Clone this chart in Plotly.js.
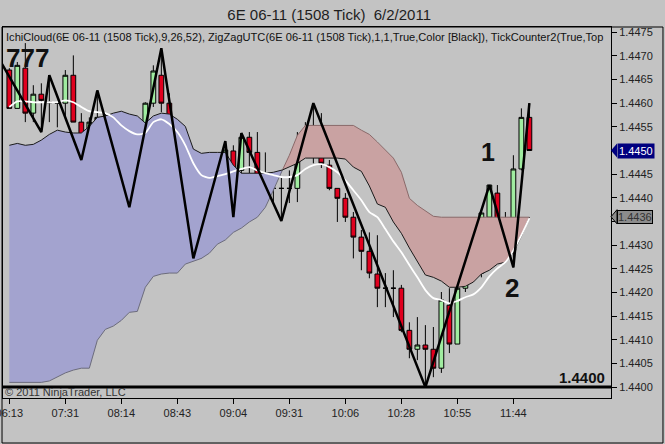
<!DOCTYPE html>
<html>
<head>
<meta charset="utf-8">
<script src="https://cdn.plot.ly/plotly-3.0.1.min.js"></script>
<style>
html,body{margin:0;padding:0;background:#c3c3c3;}
#chart{width:665px;height:444px;}
</style>
</head>
<body>
<div id="chart"></div>
<script>
// ---- Data ----
const timeLabels = ['06:13','07:31','08:14','08:43','09:04','09:31','10:06','10:28','10:55','11:44'];
const timeLabelBars = [0,7,14,21,28,35,42,49,56,63];
const priceTicks = [1.4400,1.4405,1.4410,1.4415,1.4420,1.4425,1.4430,1.4435,1.4440,1.4445,1.4450,1.4455,1.4460,1.4465,1.4470,1.4475];

const opens  = [1.44670,1.44589,1.44674,1.44579,1.44619,1.44603,1.44600,1.44600,1.44659,1.44560,
                1.44496,1.44560,1.44570,1.44539,1.44539,1.44429,1.44461,1.44496,1.44600,1.44659,
                1.44600,1.44496,1.44359,1.44389,1.44319,1.44300,1.44368,1.44410,1.44499,1.44458,
                1.44528,1.44496,1.44437,1.44420,1.44420,1.44420,1.44420,1.44496,1.44528,1.44518,
                1.44469,1.44420,1.44399,1.44359,1.44317,1.44287,1.44239,1.44209,1.44209,1.44209,
                1.44120,1.44080,1.44089,1.44080,1.44040,1.44173,1.44091,1.44209,1.44249,1.44241,
                1.44359,1.44410,1.44349,1.44289,1.44461,1.44570];
const highs  = [1.44674,1.44687,1.44727,1.44638,1.44642,1.44659,1.44600,1.44670,1.44701,1.44579,
                1.44570,1.44627,1.44579,1.44564,1.44539,1.44473,1.44518,1.44602,1.44680,1.44716,
                1.44621,1.44501,1.44410,1.44410,1.44338,1.44395,1.44416,1.44520,1.44511,1.44537,
                1.44539,1.44539,1.44496,1.44442,1.44442,1.44458,1.44539,1.44560,1.44600,1.44579,
                1.44480,1.44420,1.44410,1.44370,1.44332,1.44327,1.44321,1.44241,1.44247,1.44216,
                1.44137,1.44148,1.44131,1.44127,1.44201,1.44209,1.44220,1.44264,1.44272,1.44370,
                1.44427,1.44427,1.44370,1.44490,1.44589,1.44600];
const lows   = [1.44589,1.44589,1.44560,1.44560,1.44539,1.44560,1.44549,1.44568,1.44560,1.44480,
                1.44477,1.44549,1.44461,1.44463,1.44427,1.44380,1.44458,1.44490,1.44592,1.44581,
                1.44469,1.44353,1.44338,1.44272,1.44272,1.44296,1.44317,1.44402,1.44359,1.44437,
                1.44442,1.44420,1.44389,1.44389,1.44351,1.44389,1.44391,1.44494,1.44473,1.44463,
                1.44416,1.44349,1.44349,1.44272,1.44247,1.44230,1.44169,1.44169,1.44148,1.44116,
                1.44061,1.44057,1.44000,1.44021,1.44030,1.44072,1.44091,1.44201,1.44222,1.44232,
                1.44327,1.44338,1.44272,1.44253,1.44458,1.44500];
const closes = [1.44589,1.44680,1.44579,1.44619,1.44606,1.44601,1.44600,1.44659,1.44560,1.44494,
                1.44560,1.44570,1.44539,1.44539,1.44429,1.44461,1.44496,1.44600,1.44668,1.44600,
                1.44496,1.44359,1.44389,1.44319,1.44300,1.44368,1.44410,1.44501,1.44458,1.44528,
                1.44496,1.44437,1.44422,1.44420,1.44420,1.44420,1.44496,1.44528,1.44518,1.44473,
                1.44420,1.44399,1.44359,1.44317,1.44287,1.44241,1.44209,1.44209,1.44209,1.44120,
                1.44080,1.44089,1.44080,1.44040,1.44184,1.44091,1.44209,1.44247,1.44241,1.44368,
                1.44427,1.44353,1.44289,1.44461,1.44570,1.44500];

// Ichimoku cloud boundaries
const senkouA = [1.44511,1.44515,1.44511,1.44513,1.44522,1.44534,1.44543,1.44539,1.44537,1.44537,
                 1.44551,1.44570,1.44573,1.44579,1.44583,1.44577,1.44573,1.44558,1.44573,1.44579,
                 1.44577,1.44566,1.44551,1.44503,1.44494,1.44496,1.44496,1.44496,1.44469,1.44452,
                 1.44452,1.44452,1.44452,1.44454,1.44458,1.44465,1.44473,1.44484,1.44484,1.44484,
                 1.44484,1.44484,1.44482,1.44465,1.44456,1.44425,1.44387,1.44380,1.44349,1.44325,
                 1.44294,1.44264,1.44237,1.44232,1.44224,1.44211,1.44211,1.44213,1.44222,1.44239,
                 1.44247,1.44260,1.44264,1.44285,1.44319,1.44359];
const senkouB = [1.44010,1.44010,1.44010,1.44010,1.44010,1.44013,1.44021,1.44030,1.44036,1.44040,
                 1.44040,1.44099,1.44122,1.44129,1.44141,1.44158,1.44160,1.44211,1.44234,1.44239,
                 1.44241,1.44241,1.44260,1.44266,1.44272,1.44283,1.44302,1.44311,1.44327,1.44336,
                 1.44349,1.44359,1.44380,1.44416,1.44454,1.44490,1.44532,1.44553,1.44553,1.44553,
                 1.44553,1.44553,1.44553,1.44553,1.44543,1.44534,1.44518,1.44501,1.44484,1.44454,
                 1.44399,1.44384,1.44372,1.44361,1.44359,1.44359,1.44359,1.44359,1.44359,1.44359,
                 1.44359,1.44359,1.44359,1.44359,1.44359,1.44359];
const whiteLine = [1.44592,1.44604,1.44604,1.44602,1.44602,1.44602,1.44602,1.44606,1.44602,1.44592,
                   1.44583,1.44581,1.44579,1.44570,1.44553,1.44541,1.44534,1.44537,1.44560,1.44566,
                   1.44556,1.44539,1.44511,1.44473,1.44448,1.44442,1.44446,1.44450,1.44456,1.44461,
                   1.44465,1.44458,1.44452,1.44448,1.44444,1.44444,1.44448,1.44461,1.44469,1.44471,
                   1.44465,1.44454,1.44437,1.44416,1.44395,1.44370,1.44359,1.44334,1.44308,1.44285,
                   1.44258,1.44232,1.44205,1.44188,1.44184,1.44177,1.44182,1.44190,1.44196,1.44211,
                   1.44234,1.44251,1.44264,1.44289,1.44321,1.44357];

// ZigZag pivots (bar index, price)
const zigzagBars   = [-1.2,4,5,9,11,15,19,23,27,28,29,34,38,52,60,63,65];
const zigzagPrices = [1.44691,1.44539,1.44659,1.44480,1.44627,1.44380,1.44716,1.44272,1.44520,1.44359,
                      1.44537,1.44351,1.44600,1.44000,1.44427,1.44253,1.44600];

const levelLine = 1.4400;
const lastPrice = 1.4450;
const cloudPrice = 1.4436;

// ---- Build traces ----
const bars = opens.map((_, i) => i);
const traces = [];

function cloudSegments() {
  const segs = [];
  let cur = {sign: Math.sign(senkouA[0] - senkouB[0]) || 1, x: [0], a: [senkouA[0]], b: [senkouB[0]]};
  for (let i = 1; i < bars.length; i++) {
    const d0 = senkouA[i-1] - senkouB[i-1];
    const d1 = senkouA[i] - senkouB[i];
    const s1 = Math.sign(d1);
    if (s1 !== 0 && s1 !== cur.sign) {
      const t = d0 / (d0 - d1);
      const xc = i - 1 + t;
      const yc = senkouA[i-1] + t * (senkouA[i] - senkouA[i-1]);
      cur.x.push(xc); cur.a.push(yc); cur.b.push(yc);
      segs.push(cur);
      cur = {sign: s1, x: [xc], a: [yc], b: [yc]};
    }
    cur.x.push(i); cur.a.push(senkouA[i]); cur.b.push(senkouB[i]);
  }
  segs.push(cur);
  return segs;
}
const segs = cloudSegments();
segs.forEach(s => {
  const blue = s.sign > 0;
  traces.push({
    type: 'scatter', mode: 'lines', hoverinfo: 'skip', showlegend: false,
    x: s.x.concat(s.x.slice().reverse()),
    y: s.a.concat(s.b.slice().reverse()),
    fill: 'toself', fillcolor: blue ? '#a3a3cf' : '#c9a2a2',
    line: {width: 0}
  });
});
segs.forEach(s => {
  const blue = s.sign > 0;
  traces.push({type: 'scatter', mode: 'lines', hoverinfo: 'skip', showlegend: false,
    x: s.x, y: s.b, line: {color: blue ? '#6c6c7c' : '#8a6a6a', width: 1}});
  traces.push({type: 'scatter', mode: 'lines', hoverinfo: 'skip', showlegend: false,
    x: s.x, y: s.a, line: {color: '#1a1a1a', width: 1}});
});

// White line
traces.push({type: 'scatter', mode: 'lines', hoverinfo: 'skip', showlegend: false,
  x: bars, y: whiteLine, line: {color: '#ffffff', width: 1.8, shape: 'spline', smoothing: 0.6}});

// Candles
traces.push({
  type: 'candlestick', x: bars, open: opens, high: highs, low: lows, close: closes,
  hoverinfo: 'skip', showlegend: false, whiskerwidth: 0,
  increasing: {line: {color: '#000000', width: 1}, fillcolor: '#a0eca0'},
  decreasing: {line: {color: '#000000', width: 1}, fillcolor: '#e0001e'}
});

// ZigZag
traces.push({type: 'scatter', mode: 'lines', hoverinfo: 'skip', showlegend: false,
  x: zigzagBars, y: zigzagPrices, line: {color: '#000000', width: 2.5}});

// ---- Layout ----
const F = 'Liberation Sans, Arial, sans-serif';
const hiddenTicks = [lastPrice, 1.4435];
const layout = {
  width: 665, height: 444,
  margin: {l: 3, r: 54, t: 27, b: 46},
  paper_bgcolor: '#c3c3c3', plot_bgcolor: '#c3c3c3',
  boxgap: 0.15,
  title: {text: '6E 06-11 (1508 Tick)  6/2/2011', font: {family: F, size: 15, color: '#1e1e1e'},
          x: 0.495, xanchor: 'center', y: 0.966, yanchor: 'middle'},
  showlegend: false,
  xaxis: {
    range: [-0.79, 75.2], rangeslider: {visible: false},
    tickmode: 'array', tickvals: timeLabelBars, ticktext: timeLabels,
    ticklabeloverflow: 'allow',
    ticks: 'outside', ticklen: 5, tickcolor: '#000', tickwidth: 1,
    showgrid: false, zeroline: false,
    showline: true, linecolor: '#000', linewidth: 1, mirror: true,
    tickfont: {family: F, size: 11, color: '#222'}, fixedrange: true
  },
  yaxis: {
    range: [1.43977, 1.44761], side: 'right',
    tickmode: 'array', tickvals: priceTicks,
    ticktext: priceTicks.map(v => hiddenTicks.some(h => Math.abs(h - v) < 1e-7) ? '' : v.toFixed(4)),
    ticks: 'outside', ticklen: 5, tickcolor: '#000', tickwidth: 1,
    showgrid: false, zeroline: false,
    showline: true, linecolor: '#000', linewidth: 1, mirror: true,
    tickfont: {family: F, size: 11, color: '#222'}, fixedrange: true
  },
  shapes: [
    {type: 'line', xref: 'paper', x0: 0, x1: 1, yref: 'y', y0: levelLine, y1: levelLine,
     line: {color: '#000', width: 3}},
    {type: 'rect', xref: 'paper', yref: 'paper', x0: -0.0016, x1: 1.0855, y0: -0.1213, y1: 1,
     line: {color: '#000', width: 1}, layer: 'above'},
    {type: 'path', xref: 'paper', yref: 'y',
     path: `M 1.0,${lastPrice} L 1.0099,${lastPrice + 0.00015} L 1.0099,${lastPrice - 0.00015} Z`,
     fillcolor: '#00007f', line: {width: 0}},
    {type: 'path', xref: 'paper', yref: 'y',
     path: `M 1.0,${cloudPrice} L 1.0099,${cloudPrice + 0.00015} L 1.0099,${cloudPrice - 0.00015} Z`,
     fillcolor: '#8c8c8c', line: {color: '#000', width: 1}}
  ],
  annotations: [
    {xref: 'paper', yref: 'paper', x: 0.0016, y: 0.973, xanchor: 'left', yanchor: 'middle', showarrow: false,
     text: 'IchiCloud(6E 06-11 (1508 Tick),9,26,52), ZigZagUTC(6E 06-11 (1508 Tick),1,1,True,Color [Black]), TickCounter2(True,Top',
     font: {family: F, size: 11.1, color: '#111'}},
    {xref: 'paper', yref: 'paper', x: 0.0411, y: 0.9164, xanchor: 'center', yanchor: 'middle', showarrow: false,
     text: '<b>777</b>', font: {family: F, size: 26, color: '#111'}},
    {xref: 'paper', yref: 'paper', x: 0.7977, y: 0.663, xanchor: 'center', yanchor: 'middle', showarrow: false,
     text: '<b>1</b>', font: {family: F, size: 25, color: '#111'}},
    {xref: 'paper', yref: 'paper', x: 0.837, y: 0.2965, xanchor: 'center', yanchor: 'middle', showarrow: false,
     text: '<b>2</b>', font: {family: F, size: 26, color: '#111'}},
    {xref: 'paper', yref: 'paper', x: 0.9934, y: 0.0566, xanchor: 'right', yanchor: 'middle', showarrow: false,
     text: '<b>1.4400</b>', font: {family: F, size: 15, color: '#111'}},
    {xref: 'paper', yref: 'paper', x: 0.0, y: 0.0162, xanchor: 'left', yanchor: 'middle', showarrow: false,
     text: '© 2011 NinjaTrader, LLC', font: {family: F, size: 11, color: '#333'}},
    {xref: 'paper', yref: 'y', x: 1.0099, y: lastPrice, xanchor: 'left', yanchor: 'middle', showarrow: false,
     text: '1.4450', bgcolor: '#00007f', borderpad: 1, font: {family: F, size: 11, color: '#ffffff'}},
    {xref: 'paper', yref: 'y', x: 1.0099, y: cloudPrice, xanchor: 'left', yanchor: 'middle', showarrow: false,
     text: '1.4436', bgcolor: '#8c8c8c', bordercolor: '#000', borderwidth: 1, borderpad: 0,
     font: {family: F, size: 11, color: '#333'}}
  ]
};

Plotly.newPlot('chart', traces, layout, {staticPlot: true, displayModeBar: false});
</script>
</body>
</html>
